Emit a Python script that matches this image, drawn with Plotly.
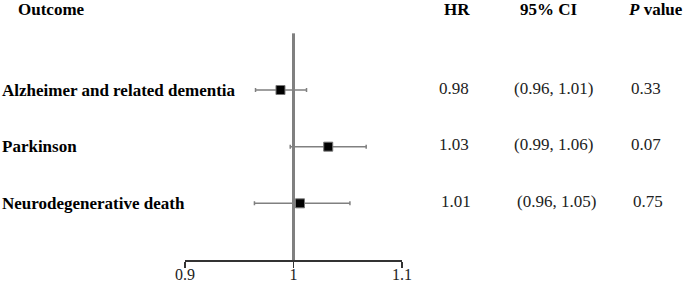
import plotly.graph_objects as go

outcomes = ["Alzheimer and related dementia", "Parkinson", "Neurodegenerative death"]
hr = [0.988, 1.032, 1.006]
ci_low = [0.965, 0.997, 0.964]
ci_high = [1.012, 1.067, 1.052]
hr_text = ["0.98", "1.03", "1.01"]
ci_text = ["(0.96, 1.01)", "(0.99, 1.06)", "(0.96, 1.05)"]
p_text = ["0.33", "0.07", "0.75"]
tick_vals = [0.9, 1.0, 1.1]
tick_labels = ["0.9", "1", "1.1"]

W, H = 685, 284
FONT = "Liberation Serif, Times New Roman, serif"
rows = list(range(len(outcomes)))

fig = go.Figure()
fig.add_trace(go.Scatter(
    x=hr, y=rows, mode="markers",
    marker=dict(symbol="square", size=9, color="black", line=dict(color="#777", width=1)),
    error_x=dict(type="data", symmetric=False,
                 array=[h - m for m, h in zip(hr, ci_high)],
                 arrayminus=[m - l for m, l in zip(hr, ci_low)],
                 color="#808080", thickness=1.5, width=2),
    showlegend=False, hoverinfo="skip",
))

fig.add_shape(type="line", xref="x", yref="y", x0=1, x1=1, y0=-1, y1=3,
              line=dict(color="#808080", width=3), layer="below")


def px(x):
    return x / W


def py(y):
    return 1 - y / H


anns = []
headers = [("<b>Outcome</b>", 17, "left"), ("<b>HR</b>", 457, "center"),
           ("<b>95% CI</b>", 549, "center"), ("<b><i>P</i> value</b>", 655, "center")]
for t, x, anc in headers:
    anns.append(dict(text=t, xref="paper", yref="paper", x=px(x), y=py(9.8),
                     xanchor=anc, yanchor="middle", showarrow=False, borderpad=0,
                     font=dict(size=17, color="black", family=FONT)))

hr_x = [454, 454, 456]
ci_x = [553, 553, 556]
p_x = [646, 646, 648]
for i, r in enumerate(rows):
    anns.append(dict(text="<b>" + outcomes[i] + "</b>", xref="paper", yref="y", x=px(1), y=r,
                     xanchor="left", yanchor="middle", showarrow=False, borderpad=0,
                     font=dict(size=17, color="black", family=FONT)))
    for txt, xx in ((hr_text[i], hr_x[i]), (ci_text[i], ci_x[i]), (p_text[i], p_x[i])):
        anns.append(dict(text=txt, xref="paper", yref="y", x=px(xx), y=r - 0.03,
                         xanchor="center", yanchor="middle", showarrow=False, borderpad=0,
                         font=dict(size=17, color="#222", family=FONT)))

fig.update_layout(
    template="none",
    width=W, height=H,
    margin=dict(l=0, r=0, t=0, b=0, pad=0, autoexpand=False),
    paper_bgcolor="white", plot_bgcolor="white",
    font=dict(family=FONT, color="#222"),
    annotations=anns,
    xaxis=dict(domain=[185 / W, 402 / W], range=[0.9, 1.1], showgrid=False, zeroline=False,
               automargin=False,
               showline=True, linecolor="#333", linewidth=1.5, ticks="outside", ticklen=6,
               tickcolor="#333", tickwidth=1.5, tickvals=tick_vals, ticktext=tick_labels,
               ticklabelstandoff=-7,
               tickfont=dict(size=16, color="#222", family=FONT)),
    yaxis=dict(domain=[24 / H, 1], range=[3, -90 / (170 / 3)], visible=False,
               automargin=False, showgrid=False, zeroline=False),
)

post = """
var de = document.documentElement, b = document.body;
[de, b].forEach(function(e){e.style.margin='0';e.style.padding='0';e.style.overflow='hidden';});
"""

fig.write_html("out.html", config={"displayModeBar": False, "staticPlot": True},
               post_script=post)
